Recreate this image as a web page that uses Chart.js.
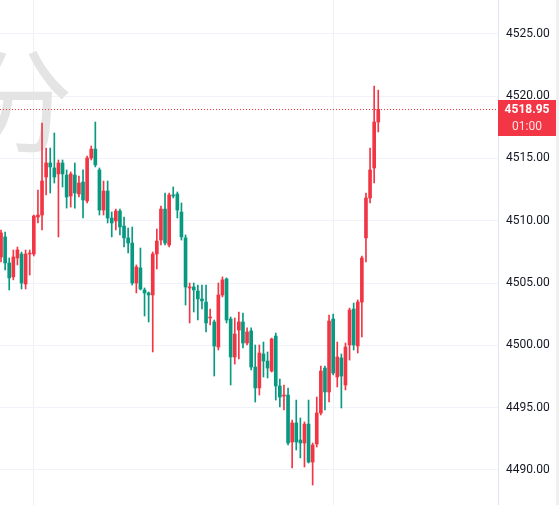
<!DOCTYPE html>
<html>
<head>
<meta charset="utf-8">
<script src="https://cdn.jsdelivr.net/npm/chart.js@4.4.1/dist/chart.umd.min.js"></script>
<style>
    html, body { margin: 0; padding: 0; background: #fff; }
    #wrap { width: 559px; height: 505px; position: relative; }
</style>
</head>
<body>
<div id="wrap"><canvas id="chart" width="559" height="505"></canvas></div>
<script>
// OHLC candles (red = up, green = down)
const openP = [4507.09, 4508.70, 4506.61, 4505.49, 4507.01, 4507.33, 4504.92, 4507.33, 4507.33, 4510.30,
    4510.46, 4513.51, 4514.64, 4514.24, 4513.76, 4514.64, 4513.67, 4511.99, 4513.67, 4512.15,
    4513.11, 4511.59, 4515.04, 4515.76, 4514.08, 4510.86, 4512.39, 4510.22, 4509.98, 4510.78,
    4509.58, 4508.62, 4508.21, 4505.00, 4506.21, 4504.44, 4504.20, 4504.04, 4507.33, 4508.45,
    4510.94, 4508.05, 4512.07, 4512.15, 4510.70, 4508.62, 4504.60, 4504.68, 4504.36, 4503.72,
    4503.47, 4502.19, 4501.87, 4499.86, 4504.04, 4505.33, 4502.11, 4499.06, 4501.22, 4501.87,
    4500.18, 4501.15, 4498.25, 4496.57, 4499.30, 4498.73, 4497.93, 4500.74, 4496.73, 4495.92,
    4496.00, 4492.23, 4493.76, 4492.39, 4492.15, 4493.67, 4490.62, 4492.07, 4494.56, 4498.17,
    4496.25, 4502.11, 4497.45, 4498.98, 4496.81, 4500.02, 4502.91, 4499.94, 4503.47, 4508.62,
    4511.83, 4514.24, 4517.93];
const highP = [4509.26, 4509.10, 4507.01, 4507.65, 4507.89, 4507.49, 4507.65, 4507.65, 4510.46, 4512.47,
    4517.85, 4515.84, 4515.84, 4517.05, 4514.88, 4514.88, 4514.08, 4513.92, 4514.64, 4513.59,
    4514.08, 4515.20, 4516.00, 4517.93, 4514.24, 4513.19, 4513.19, 4510.70, 4510.94, 4510.94,
    4510.30, 4509.42, 4509.50, 4506.45, 4507.81, 4504.60, 4504.28, 4507.49, 4509.34, 4511.18,
    4512.23, 4512.23, 4512.71, 4512.31, 4511.43, 4508.86, 4505.00, 4505.00, 4504.84, 4504.84,
    4504.84, 4502.91, 4502.03, 4505.00, 4505.49, 4505.41, 4502.27, 4502.19, 4502.67, 4502.59,
    4501.39, 4501.39, 4500.02, 4500.02, 4500.26, 4499.46, 4500.58, 4500.98, 4497.29, 4496.81,
    4496.57, 4494.00, 4495.60, 4494.16, 4493.84, 4495.60, 4492.15, 4495.84, 4498.33, 4498.33,
    4502.43, 4502.51, 4500.26, 4499.30, 4500.18, 4502.99, 4503.39, 4503.64, 4507.17, 4512.23,
    4515.84, 4520.82, 4520.49];
const lowP = [4506.69, 4506.05, 4504.44, 4505.25, 4506.45, 4504.52, 4504.52, 4505.64, 4507.17, 4509.82,
    4509.26, 4512.07, 4512.23, 4513.03, 4508.70, 4512.71, 4511.02, 4511.10, 4511.02, 4511.91,
    4510.22, 4511.43, 4514.88, 4514.32, 4510.46, 4510.46, 4509.82, 4508.70, 4509.26, 4508.86,
    4507.89, 4507.41, 4504.84, 4504.20, 4504.44, 4502.35, 4501.87, 4499.46, 4506.13, 4508.05,
    4508.05, 4507.89, 4511.83, 4510.22, 4508.45, 4503.23, 4501.79, 4502.67, 4502.03, 4502.91,
    4501.07, 4501.63, 4497.53, 4499.62, 4503.88, 4501.79, 4496.81, 4498.49, 4498.90, 4499.78,
    4500.02, 4498.01, 4495.44, 4496.00, 4497.45, 4497.37, 4497.85, 4495.60, 4495.04, 4494.80,
    4491.99, 4490.14, 4491.59, 4490.95, 4490.22, 4490.54, 4488.77, 4491.83, 4494.40, 4494.80,
    4495.44, 4497.61, 4496.65, 4494.96, 4496.41, 4498.81, 4499.62, 4499.38, 4500.66, 4506.69,
    4511.43, 4513.03, 4517.13];
const closeP = [4509.02, 4506.61, 4505.41, 4507.09, 4507.65, 4505.00, 4507.33, 4507.41, 4510.38, 4510.46,
    4513.19, 4514.64, 4514.32, 4513.51, 4514.64, 4513.76, 4511.91, 4513.76, 4512.23, 4513.03,
    4511.67, 4515.04, 4515.76, 4514.48, 4510.86, 4512.39, 4510.22, 4509.82, 4510.78, 4509.50,
    4508.62, 4508.21, 4505.00, 4506.29, 4504.52, 4504.20, 4504.04, 4507.33, 4508.37, 4510.94,
    4508.21, 4512.07, 4511.99, 4510.86, 4508.70, 4504.68, 4504.68, 4504.44, 4503.72, 4503.56,
    4501.79, 4502.27, 4499.94, 4504.04, 4505.25, 4502.03, 4499.06, 4500.90, 4501.87, 4500.18,
    4501.07, 4498.25, 4496.57, 4499.38, 4498.73, 4498.17, 4500.50, 4496.73, 4495.84, 4496.00,
    4492.15, 4493.76, 4492.23, 4492.15, 4493.67, 4490.62, 4491.99, 4494.56, 4497.93, 4496.25,
    4501.95, 4497.77, 4499.06, 4497.53, 4499.86, 4502.83, 4500.02, 4503.47, 4507.01, 4511.83,
    4514.08, 4517.93, 4518.95];

// price scale labels and the two time-grid lines (candle index)
const priceTicks = [4490, 4495, 4500, 4505, 4510, 4515, 4520, 4525];
const sessionMarks = [8, 81];
const tagTime = '01:00';
const watermark = '分';

const UP = '#f23645';
const DOWN = '#089981';

const candleColors = openP.map((o, i) => closeP[i] >= o ? UP : DOWN);
const wickData = openP.map((o, i) => ({ x: i, y: [lowP[i], highP[i]] }));
const bodyData = openP.map((o, i) => ({ x: i, y: [o, closeP[i]] }));
const lastClose = closeP[closeP.length - 1];

// dotted last-price line, the red price tag and the big watermark
const overlayPlugin = {
    id: 'overlay',
    beforeDatasetsDraw(chart) {
        const ctx = chart.ctx;
        ctx.save();
        ctx.fillStyle = '#e4e4e4';
        ctx.font = '112px "Noto Sans CJK SC"';
        ctx.textAlign = 'right';
        ctx.textBaseline = 'middle';
        ctx.fillText(watermark, 73, 101);
        ctx.restore();
    },
    afterDraw(chart) {
        const { ctx, chartArea, scales } = chart;
        const py = Math.round(scales.y.getPixelForValue(lastClose));
        ctx.save();
        // dots as single pixels so they stay crisp and red
        ctx.fillStyle = UP;
        for (let x = Math.ceil(chartArea.left); x < chartArea.right; x += 3) {
            ctx.fillRect(x, py, 1, 1);
        }

        const bx = chartArea.right;
        ctx.fillRect(bx, py - 9, 58, 36);
        ctx.fillStyle = '#ffffff';
        ctx.textAlign = 'center';
        ctx.textBaseline = 'middle';
        ctx.font = 'bold 12px Roboto';
        ctx.fillText(lastClose.toFixed(2), bx + 29, py + 1);
        ctx.fillStyle = 'rgba(255,255,255,0.85)';
        ctx.font = '12px Roboto';
        ctx.fillText(tagTime, bx + 29, py + 18);

        // scrollbar strip on the far right
        ctx.fillStyle = '#f0f0f0';
        ctx.fillRect(556, 0, 3, chart.height);
        ctx.restore();
    }
};

new Chart(document.getElementById('chart'), {
    type: 'bar',
    data: {
        datasets: [
            {
                data: wickData,
                backgroundColor: candleColors,
                barThickness: 1,
                grouped: false,
                minBarLength: 1
            },
            {
                data: bodyData,
                backgroundColor: candleColors,
                barThickness: 3,
                grouped: false,
                minBarLength: 1
            }
        ]
    },
    options: {
        responsive: false,
        animation: false,
        layout: { padding: 0 },
        plugins: {
            legend: { display: false },
            tooltip: { enabled: false }
        },
        scales: {
            x: {
                type: 'linear',
                min: -0.25,
                max: 121.2,
                offset: false,
                grid: { color: '#eef0f5', drawTicks: false, offset: false },
                border: { display: false },
                ticks: { display: false },
                afterBuildTicks: s => { s.ticks = sessionMarks.map(v => ({ value: v })); },
                afterFit: s => { s.height = 0; }
            },
            y: {
                position: 'right',
                min: 4487.17,
                max: 4527.73,
                grid: { color: '#f0f3fa', drawTicks: false },
                border: { display: true, color: '#e0e3eb' },
                ticks: {
                    padding: 8,
                    color: '#131722',
                    font: { family: 'Roboto', size: 12 },
                    callback: v => Number(v).toFixed(2)
                },
                afterBuildTicks: s => { s.ticks = priceTicks.map(v => ({ value: v })); },
                afterFit: s => {
                    s.width = 61;
                    s.paddingTop = 0;
                    s.paddingBottom = 0;
                }
            }
        }
    },
    plugins: [overlayPlugin]
});
</script>
</body>
</html>
